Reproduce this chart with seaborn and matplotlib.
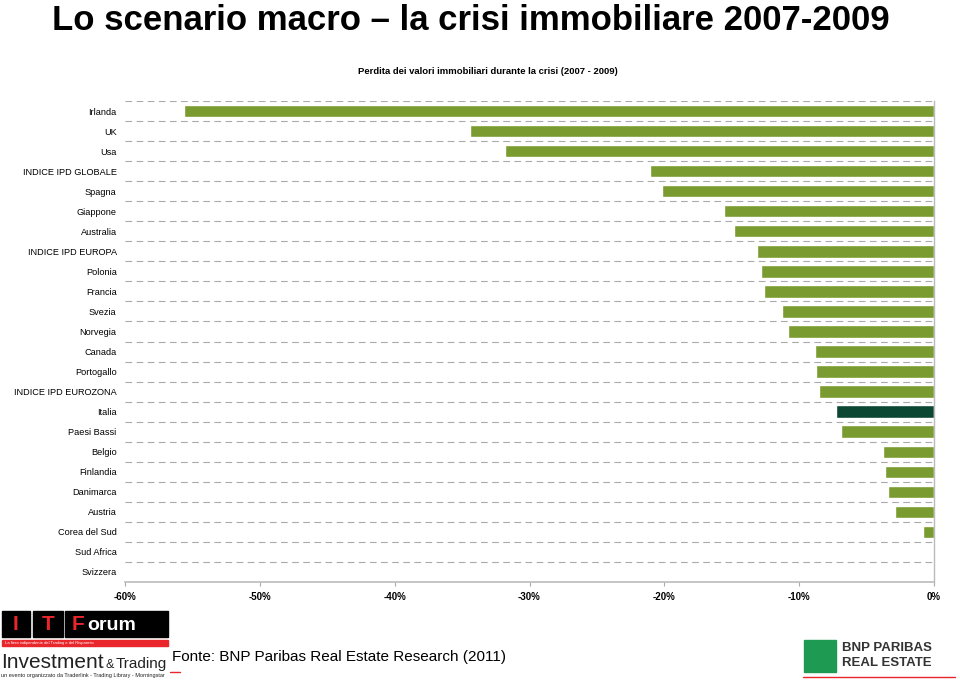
import matplotlib
matplotlib.use("Agg")
import matplotlib.pyplot as plt
import matplotlib.patches as mpatches
import seaborn as sns
import pandas as pd

categories = ["Irlanda", "UK", "Usa", "INDICE IPD GLOBALE", "Spagna", "Giappone",
              "Australia", "INDICE IPD EUROPA", "Polonia", "Francia", "Svezia",
              "Norvegia", "Canada", "Portogallo", "INDICE IPD EUROZONA", "Italia",
              "Paesi Bassi", "Belgio", "Finlandia", "Danimarca", "Austria",
              "Corea del Sud", "Sud Africa", "Svizzera"]
values = [-55.6, -34.4, -31.8, -21.1, -20.2, -15.6, -14.8, -13.1, -12.8, -12.6,
          -11.3, -10.8, -8.8, -8.75, -8.5, -7.3, -6.9, -3.8, -3.6, -3.4, -2.9,
          -0.8, 0.0, 0.0]
xticks = [-60, -50, -40, -30, -20, -10, 0]
xtick_labels = ["-60%", "-50%", "-40%", "-30%", "-20%", "-10%", "0%"]
highlight = "Italia"

title = "Lo scenario macro \u2013 la crisi immobiliare 2007-2009"
subtitle = "Perdita dei valori immobiliari durante la crisi (2007 - 2009)"
source = "Fonte: BNP Paribas Real Estate Research (2011)"

GREEN = "#7A9B30"
DARK = "#0B4733"

sns.set_theme(style="white")
plt.rcParams['font.family'] = ['Liberation Sans', 'DejaVu Sans']
plt.rcParams['text.color'] = 'black'
plt.rcParams['xtick.color'] = 'black'
plt.rcParams['ytick.color'] = 'black'

df = pd.DataFrame({"cat": categories, "val": values})
palette = {c: (DARK if c == highlight else GREEN) for c in categories}

fig = plt.figure(figsize=(9.6, 6.8), dpi=100)
ax = fig.add_axes([125/960, 1-582/680, (934-125)/960, (582-101)/680])

sns.barplot(data=df, x="val", y="cat", hue="cat", palette=palette, legend=False,
            orient="h", width=0.62, ax=ax, saturation=1)

ax.set_xlim(-60, 0)
ax.set_ylim(len(categories)-0.5, -0.5)
ax.set_xticks(xticks)
ax.set_xticklabels(xtick_labels, fontsize=7, fontweight='bold')
ax.set_xlabel("")
ax.set_ylabel("")
ax.tick_params(axis='y', labelsize=6.6, length=0, pad=6)
ax.tick_params(axis='x', length=3, width=0.8, color='#aaaaaa', pad=4, direction='out')
ax.tick_params(axis='x', bottom=True)

for i in range(len(categories)):
    ax.axhline(i - 0.5, color='#aaaaaa', lw=0.8, ls=(0, (6, 4)), zorder=0)

for s in ["top", "left"]:
    ax.spines[s].set_visible(False)
ax.spines["bottom"].set_color('#bbbbbb')
ax.spines["right"].set_color('#bbbbbb')
ax.spines["bottom"].set_linewidth(1.2)
ax.spines["right"].set_linewidth(1.0)

fig.text(52/960, 1-30/680, title, fontsize=25, fontweight='bold', va='baseline', ha='left')
fig.text(488/960, 1-72/680, subtitle, fontsize=6.8, fontweight='bold', va='center', ha='center')
fig.text(172/960, 1-657/680, source, fontsize=11, va='center', ha='left')

def px(x, y, w, h):
    return (x/960, 1-(y+h)/680, w/960, h/680)

# ITForum logo (approximation)
for (x, w, t, col) in [(2, 28, "I", "#e8262b"), (33, 30, "T", "#e8262b")]:
    r = mpatches.Rectangle(px(x, 611, w, 26)[:2], w/960, 26/680, transform=fig.transFigure,
                           color='black', zorder=5)
    fig.patches.append(r)
    fig.text((x + w/2)/960, 1-624/680, t, color=col, fontsize=15, fontweight='bold',
             ha='center', va='center', zorder=6)
r = mpatches.Rectangle(px(65, 611, 103, 26)[:2], 103/960, 26/680, transform=fig.transFigure,
                       color='black', zorder=5)
fig.patches.append(r)
fig.text(72/960, 1-624/680, "F", color="#e8262b", fontsize=15, fontweight='bold',
         ha='left', va='center', zorder=6)
fig.text(87/960, 1-625/680, "orum", color="white", fontsize=14, fontweight='bold',
         ha='left', va='center', zorder=6)
r = mpatches.Rectangle(px(2, 640, 166, 6)[:2], 166/960, 6/680, transform=fig.transFigure,
                       color="#e8262b", zorder=5)
fig.patches.append(r)
fig.text(5/960, 1-643/680, "La fiera indipendente del Trading e del Risparmio", color="white",
         fontsize=3, ha='left', va='center', zorder=6)
fig.text(1/960, 1-668/680, "Investment", fontsize=15, ha='left', va='baseline', color='#222222')
fig.text(106/960, 1-668/680, "&", fontsize=9, ha='left', va='baseline', color='#222222')
fig.text(116/960, 1-668/680, "Trading", fontsize=11, ha='left', va='baseline', color='#222222')
fig.text(1/960, 1-675/680, "un evento organizzato da Traderlink - Trading Library - Morningstar",
         fontsize=4, ha='left', va='center', color='#222222')

# BNP Paribas Real Estate logo (approximation)
r = mpatches.Rectangle(px(804, 640, 32, 32)[:2], 32/960, 32/680, transform=fig.transFigure,
                       color="#1f9a52", zorder=5)
fig.patches.append(r)
fig.text(842/960, 1-648/680, "BNP PARIBAS", fontsize=9.5, fontweight='bold',
         color='#333333', ha='left', va='center')
fig.text(842/960, 1-663/680, "REAL ESTATE", fontsize=9.5, fontweight='bold',
         color='#333333', ha='left', va='center')
fig.lines.append(plt.Line2D([803/960, 955/960], [1-677/680, 1-677/680], transform=fig.transFigure,
                            color="#e8262b", lw=1))
fig.lines.append(plt.Line2D([170/960, 180/960], [1-672/680, 1-672/680], transform=fig.transFigure,
                            color="#e8262b", lw=1))

fig.savefig("out.png", dpi=100)
